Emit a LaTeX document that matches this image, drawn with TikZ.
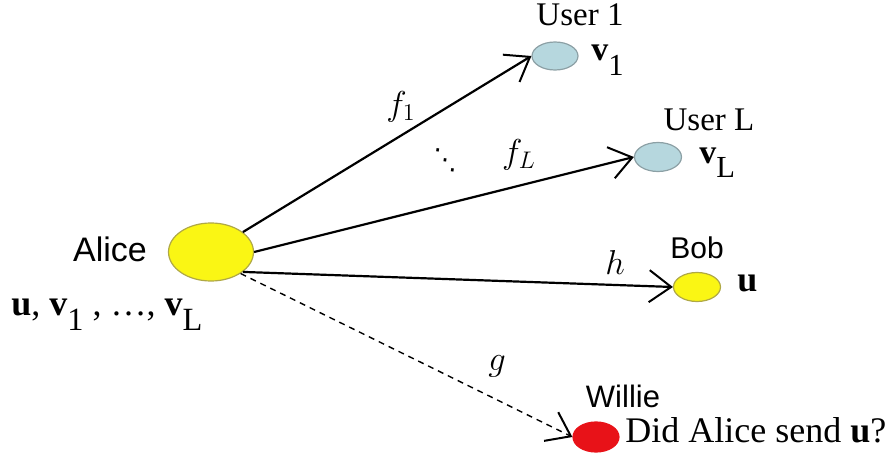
\documentclass[tikz,border=0pt]{standalone}
\usepackage{fontspec}
\setmainfont{Liberation Serif}
\setsansfont{Liberation Sans}
\newfontfamily\dotsfont{DejaVu Sans}
\usepackage{xcolor}
\usetikzlibrary{arrows.meta, positioning, shapes.geometric}

\definecolor{alicefill}{RGB}{250,246,20}
\definecolor{aliceline}{RGB}{175,168,70}
\definecolor{userfill}{RGB}{182,215,222}
\definecolor{userline}{RGB}{140,160,165}
\definecolor{williefill}{RGB}{232,18,24}

% bold vector with a large, low index
\newcommand{\vsub}[1]{\textbf{v}\raisebox{-0.42em}{\scalebox{0.9}{#1}}}

\begin{document}
\begin{tikzpicture}[x=0.5pt, y=-0.5pt,
        party/.style={ellipse, draw, line width=0.6pt, inner sep=0pt},
        sansname/.style={font=\sffamily\fontsize{17}{20}\selectfont, inner sep=0pt},
        serifname/.style={font=\fontsize{16.5}{19}\selectfont, inner sep=0pt},
        chan/.style={font=\fontsize{18}{21}\selectfont, inner sep=0pt},
        arrow/.style={-{Straight Barb[length=11pt, width=16pt, line width=1pt]}, line width=1.1pt},
        dasharrow/.style={-{Straight Barb[length=11pt, width=16pt, line width=1pt]}, line width=0.7pt, dash pattern=on 3pt off 2.5pt}
    ]
        \useasboundingbox (0,0) rectangle (890,465);

        % Alice
        \node[party, fill=alicefill, draw=aliceline, minimum width=42.5pt, minimum height=29pt] (alice) at (211,252) {};
        \node[sansname, anchor=base] (alicename) at (110,262) {Alice};
        \node[font=\fontsize{18}{21}\selectfont, anchor=base west, inner sep=0pt] (alicemsg) at (11,315)
            {\textbf{u}, \vsub{1} , \dots, \vsub{L}};

        % Users
        \node[party, fill=userfill, draw=userline, minimum width=23pt, minimum height=14pt] (user1) at (555,56) {};
        \node[serifname, anchor=base] (user1name) at (580,26) {User 1};
        \node[font=\fontsize{17}{20}\selectfont, anchor=base west, inner sep=0pt] (user1msg) at (591,61) {\vsub{1}};

        \node[party, fill=userfill, draw=userline, minimum width=23.5pt, minimum height=14.5pt] (userL) at (658,157) {};
        \node[serifname, anchor=base] (userLname) at (709,131) {User L};
        \node[font=\fontsize{17}{20}\selectfont, anchor=base west, inner sep=0pt] (userLmsg) at (699,163) {\vsub{L}};

        % Bob
        \node[party, fill=alicefill, draw=aliceline, minimum width=23.5pt, minimum height=14.5pt] (bob) at (697,287) {};
        \node[sansname, font=\sffamily\fontsize{15}{18}\selectfont, anchor=base] (bobname) at (697,258) {Bob};
        \node[font=\fontsize{18}{21}\selectfont, anchor=base west, inner sep=0pt] (bobmsg) at (737,292) {\textbf{u}};

        % Willie
        \node[party, fill=williefill, draw=williefill, minimum width=23pt, minimum height=15pt] (willie) at (596,437) {};
        \node[sansname, font=\sffamily\fontsize{15.5}{18}\selectfont, anchor=base] (williename) at (623,408) {Willie};
        \node[font=\fontsize{18}{21}\selectfont, anchor=base west, inner sep=0pt] (williemsg) at (625,442) {Did Alice send \textbf{u}?};

        % Channels
        \draw[arrow] (alice.32) -- (user1.west);
        \draw[arrow] (alice.0) -- (userL.west);
        \draw[arrow] (alice.-32) -- (bob.west);
        \draw[dasharrow] (alice.-36) -- (willie.west);

        % Channel labels
        \node[chan] (f1) at (401,107) {$f_1$};
        \node[chan] (fL) at (519,155) {$f_L$};
        \node[chan, rotate=-8, font=\dotsfont\fontsize{13}{13}\selectfont] (dots) at (445,160) {⋱};
        \node[chan] (h) at (615,262) {$h$};
        \node[chan] (g) at (497,366) {$g$};
\end{tikzpicture}
\end{document}
